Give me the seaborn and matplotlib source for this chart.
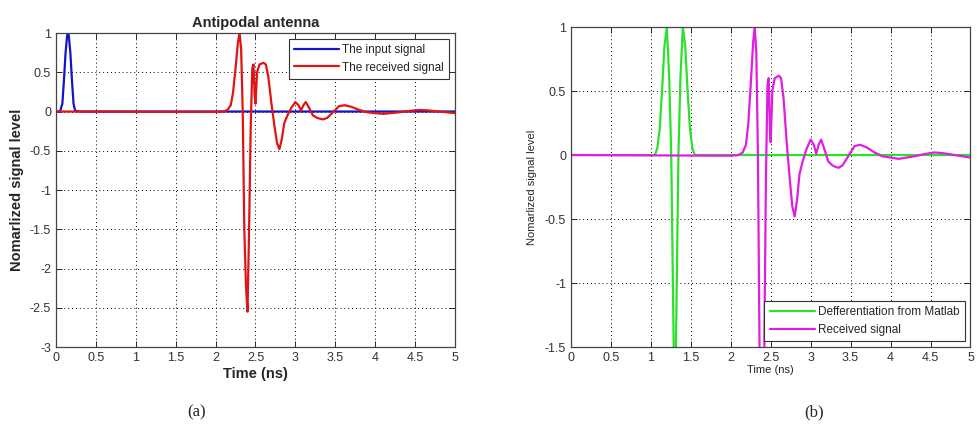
import numpy as np
import pandas as pd
import matplotlib
matplotlib.use("Agg")
import matplotlib.pyplot as plt
import seaborn as sns

# Input pulse (ns, normalized level)
input_t = [0.0, 0.05, 0.08, 0.10, 0.12, 0.14, 0.15, 0.16, 0.18, 0.20, 0.22, 0.24, 0.30, 5.0]
input_v = [0.0, 0.0, 0.10, 0.40, 0.75, 0.97, 1.0, 0.97, 0.75, 0.40, 0.10, 0.01, 0.0, 0.0]

# Received signal at the antipodal antenna
recv_t = [0.0, 1.8, 2.0, 2.1, 2.15, 2.19, 2.22, 2.25, 2.28, 2.30, 2.32, 2.34, 2.36, 2.38, 2.40,
          2.42, 2.44, 2.46, 2.475, 2.49, 2.50, 2.52, 2.55, 2.60, 2.63, 2.66, 2.70, 2.74,
          2.77, 2.80, 2.83, 2.86, 2.90, 2.95, 3.00, 3.04, 3.07, 3.10, 3.13, 3.17, 3.22,
          3.27, 3.30, 3.35, 3.40, 3.48, 3.55, 3.62, 3.70, 3.80, 3.90, 4.00, 4.10, 4.20,
          4.30, 4.45, 4.55, 4.65, 4.80, 4.90, 5.00]
recv_v = [0.0, -0.005, -0.005, 0.0, 0.02, 0.08, 0.25, 0.55, 0.88, 1.0, 0.80, 0.0, -1.5, -2.2, -2.55,
          -1.5, -0.2, 0.55, 0.60, 0.20, 0.10, 0.50, 0.60, 0.62, 0.60, 0.45, 0.10, -0.20,
          -0.40, -0.48, -0.35, -0.15, -0.05, 0.05, 0.12, 0.08, 0.01, 0.08, 0.12, 0.05, -0.05,
          -0.08, -0.09, -0.10, -0.08, 0.0, 0.07, 0.08, 0.06, 0.02, -0.01, -0.02, -0.03, -0.02,
          -0.01, 0.01, 0.02, 0.015, 0.0, -0.01, -0.02]

# Differentiated pulse computed in Matlab
diff_t = [0.0, 1.05, 1.08, 1.11, 1.14, 1.17, 1.20, 1.23, 1.255, 1.28, 1.30, 1.32, 1.345,
          1.37, 1.40, 1.43, 1.46, 1.49, 1.52, 1.55, 5.0]
diff_v = [0.0, 0.0, 0.05, 0.20, 0.50, 0.85, 1.0, 0.60, 0.0, -1.2, -2.2, -1.2, 0.0,
          0.60, 1.0, 0.85, 0.50, 0.20, 0.05, 0.0, 0.0]

x_ticks = [0, 0.5, 1, 1.5, 2, 2.5, 3, 3.5, 4, 4.5, 5]
x_tick_labels = ["0", "0.5", "1", "1.5", "2", "2.5", "3", "3.5", "4", "4.5", "5"]
ya_ticks = [-3, -2.5, -2, -1.5, -1, -0.5, 0, 0.5, 1]
ya_tick_labels = ["-3", "-2.5", "-2", "-1.5", "-1", "-0.5", "0", "0.5", "1"]
yb_ticks = [-1.5, -1, -0.5, 0, 0.5, 1]
yb_tick_labels = ["-1.5", "-1", "-0.5", "0", "0.5", "1"]

sns.set_style("white")
plt.rcParams["font.family"] = ["Liberation Sans", "DejaVu Sans"]
plt.rcParams["axes.unicode_minus"] = False

fig = plt.figure(figsize=(9.77, 4.26), dpi=100)
ax_a = fig.add_axes([0.0573, 0.1854, 0.4084, 0.7371])
ax_b = fig.add_axes([0.5844, 0.1854, 0.4089, 0.7512])

df_in = pd.DataFrame({"t": input_t, "v": input_v})
df_rx = pd.DataFrame({"t": recv_t, "v": recv_v})
df_diff = pd.DataFrame({"t": diff_t, "v": diff_v})

blue = "#1414c8"
red = "#e01414"
green = "#2ee02e"
magenta = "#e01ee0"

sns.lineplot(data=df_in, x="t", y="v", ax=ax_a, color=blue, lw=1.6,
             estimator=None, label="The input signal")
sns.lineplot(data=df_rx, x="t", y="v", ax=ax_a, color=red, lw=1.6,
             estimator=None, label="The received signal")

sns.lineplot(data=df_diff, x="t", y="v", ax=ax_b, color=green, lw=1.6,
             estimator=None, label="Defferentiation from Matlab")
sns.lineplot(data=df_rx, x="t", y="v", ax=ax_b, color=magenta, lw=1.6,
             estimator=None, label="Received signal")


def style_axes(ax, yticks, ylabels, ylim):
    ax.set_xlim(0, 5)
    ax.set_ylim(*ylim)
    ax.set_xticks(x_ticks)
    ax.set_xticklabels(x_tick_labels)
    ax.set_yticks(yticks)
    ax.set_yticklabels(ylabels)
    ax.grid(True, color="black", linestyle=(0, (1, 3)), linewidth=0.7)
    ax.tick_params(direction="in", length=4, width=0.7, labelsize=9,
                   labelcolor="#333333", top=True, right=True, bottom=True, left=True)
    for s in ax.spines.values():
        s.set_color("#444444")
        s.set_linewidth(0.9)


style_axes(ax_a, ya_ticks, ya_tick_labels, (-3, 1))
style_axes(ax_b, yb_ticks, yb_tick_labels, (-1.5, 1))

ax_a.set_title("Antipodal antenna", fontsize=10.5, fontweight="bold", pad=4)
ax_a.set_xlabel("Time (ns)", fontsize=10.5, fontweight="bold", labelpad=2)
ax_a.set_ylabel("Nomarlized signal level", fontsize=10.5, fontweight="bold", labelpad=4)
ax_b.set_xlabel("Time (ns)", fontsize=8, labelpad=1)
ax_b.set_ylabel("Nomarlized signal level", fontsize=8, labelpad=6)

leg_kw = dict(fontsize=8.5, handlelength=3.8, borderpad=0.45, labelspacing=0.45,
              handletextpad=0.25, fancybox=False, framealpha=1, edgecolor="#333333",
              borderaxespad=0.5)
leg_a = ax_a.legend(loc="upper right", **leg_kw)
leg_a.get_frame().set_linewidth(0.8)
leg_b = ax_b.legend(loc="lower right", **leg_kw)
leg_b.get_frame().set_linewidth(0.8)

fig.text(197 / 977, 1 - 412 / 426, "(a)", ha="center", va="center", fontsize=12,
         family=["Liberation Serif", "DejaVu Serif"])
fig.text(814 / 977, 1 - 412 / 426, "(b)", ha="center", va="center", fontsize=12,
         family=["Liberation Serif", "DejaVu Serif"])

fig.savefig("out.png", dpi=100)
